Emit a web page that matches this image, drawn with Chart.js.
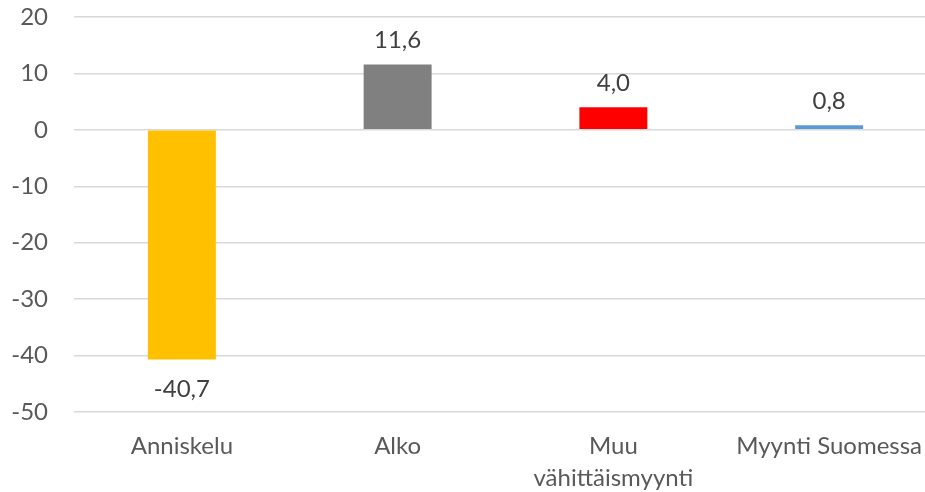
<!DOCTYPE html>
<html>
<head>
<meta charset="utf-8">
<script src="https://cdn.jsdelivr.net/npm/chart.js@4.4.0/dist/chart.umd.min.js"></script>
<style>
  html, body { margin: 0; padding: 0; background: #fff; overflow: hidden; }
  #wrap { width: 940px; height: 492px; }
</style>
</head>
<body>
<div id="wrap"><canvas id="chartCanvas" width="940" height="492"></canvas></div>
<script>
const categories = ['Anniskelu', 'Alko', ['Muu', 'vähittäismyynti'], 'Myynti Suomessa'];
const changes = [-40.7, 11.6, 4.0, 0.8];
const barColors = ['#FFC000', '#808080', '#FF0000', '#5B9BD5'];
const yTicks = [20, 10, 0, -10, -20, -30, -40, -50];

const fontFamily = "Lato, 'Open Sans', sans-serif";
const fontSize = 24;

const valueLabels = {
    id: 'valueLabels',
    afterDatasetsDraw(chart) {
        const ctx = chart.ctx;
        const meta = chart.getDatasetMeta(0);
        ctx.save();
        ctx.font = fontSize + 'px ' + fontFamily;
        ctx.fillStyle = '#404040';
        ctx.textAlign = 'center';
        ctx.textBaseline = 'middle';
        meta.data.forEach((bar, i) => {
            const v = changes[i];
            const text = v.toFixed(1).replace('.', ',');
            const y = v >= 0 ? bar.y - 24 : bar.y + 30;
            ctx.fillText(text, bar.x, y);
        });
        ctx.restore();
    }
};

new Chart(document.getElementById('chartCanvas'), {
    type: 'bar',
    data: {
        labels: categories,
        datasets: [{
            data: changes,
            backgroundColor: barColors,
            barPercentage: 0.315,
            categoryPercentage: 1
        }]
    },
    options: {
        responsive: false,
        animation: false,
        layout: { padding: { top: 17, right: 3, left: 0, bottom: 0 } },
        plugins: {
            legend: { display: false },
            tooltip: { enabled: false }
        },
        scales: {
            x: {
                grid: { display: false },
                border: { display: false },
                ticks: {
                    color: '#595959',
                    font: { family: fontFamily, size: fontSize, lineHeight: 1.3 },
                    padding: 11,
                    maxRotation: 0,
                    autoSkip: false
                },
                afterFit(scale) {
                    scale.height = 80;
                    scale.paddingLeft = 0;
                    scale.paddingRight = 0;
                }
            },
            y: {
                min: -50,
                max: 20,
                afterBuildTicks(scale) {
                    scale.ticks = yTicks.map(v => ({ value: v }));
                },
                grid: { color: '#d9d9d9', lineWidth: 1.5, drawTicks: false },
                border: { display: false },
                ticks: {
                    color: '#595959',
                    font: { family: fontFamily, size: fontSize },
                    padding: 26
                },
                afterFit(scale) {
                    scale.width = 74;
                    scale.paddingTop = 0;
                    scale.paddingBottom = 0;
                }
            }
        }
    },
    plugins: [valueLabels]
});
</script>
</body>
</html>
